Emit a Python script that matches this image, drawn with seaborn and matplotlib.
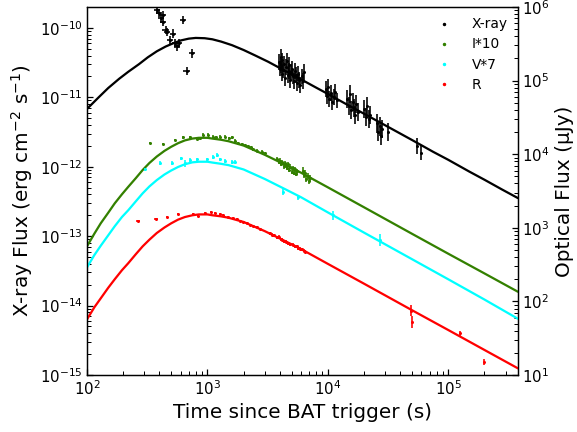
import numpy as np
import pandas as pd
import matplotlib
matplotlib.use("Agg")
import matplotlib.pyplot as plt
import seaborn as sns
from matplotlib.lines import Line2D

sns.set_style("ticks")
plt.rcParams['font.family'] = ['DejaVu Sans']
plt.rcParams.update({'axes.edgecolor': 'black', 'axes.labelcolor': 'black',
                     'xtick.color': 'black', 'ytick.color': 'black', 'text.color': 'black'})

# ---------------- X-ray data (erg cm^-2 s^-1) ----------------
xray_t = [384, 398, 411, 424, 430, 449, 464, 489, 514, 537, 555, 583, 622, 671, 748,
          3950, 4000, 4050, 4100, 4150, 4200, 4280, 4350, 4420, 4500, 4580, 4650, 4720, 4800,
          4880, 4950, 5050, 5150, 5250, 5350, 5450, 5550, 5650, 5750, 5900, 6050, 6200, 6400,
          9700, 9900, 10100, 10300, 10600, 10900, 11200, 11500, 11900,
          14500, 14900, 15300, 15700, 16100, 16500, 16900, 17300, 17800,
          20000, 20600, 21200, 21800, 22400,
          25500, 26200, 26900, 27600, 28300, 31500,
          55000, 60000]
xray_f = [1.81e-10, 1.63e-10, 1.37e-10, 1.53e-10, 1.23e-10, 9.3e-11, 8.8e-11, 6.7e-11, 8.3e-11,
          6.0e-11, 5.4e-11, 6.0e-11, 1.30e-10, 2.4e-11, 4.3e-11,
          3.2e-11, 2.6e-11, 3.8e-11, 2.9e-11, 2.2e-11, 3.4e-11, 2.5e-11, 3.0e-11, 1.9e-11, 2.7e-11,
          3.3e-11, 2.1e-11, 2.4e-11, 2.9e-11, 1.8e-11, 2.3e-11, 2.6e-11, 2.0e-11, 1.7e-11, 2.4e-11,
          2.1e-11, 1.6e-11, 2.2e-11, 1.8e-11, 1.5e-11, 2.0e-11, 1.7e-11, 2.3e-11,
          1.3e-11, 1.05e-11, 1.4e-11, 0.95e-11, 1.15e-11, 0.85e-11, 1.0e-11, 1.2e-11, 0.9e-11,
          9.5e-12, 7.5e-12, 11e-12, 6.5e-12, 8.5e-12, 7.0e-12, 5.5e-12, 8.0e-12, 6.2e-12,
          6.8e-12, 5.2e-12, 7.5e-12, 4.8e-12, 5.5e-12,
          4.2e-12, 3.2e-12, 3.8e-12, 2.8e-12, 3.5e-12, 3.2e-12,
          2.0e-12, 1.6e-12]
xray_ferr = [0.15] * 15 + [0.3] * 28 + [0.3] * 9 + [0.35] * 9 + [0.35] * 5 + [0.35] * 6 + [0.3] * 2
xray_terr = [0.06] * 15 + [0.0] * 59

# ---------------- Optical data (micro-Jansky, scaled as labelled) ----------------
I10_t = [333, 430, 537, 630, 716, 813, 870, 923, 1016, 1118, 1190, 1270, 1397, 1500, 1587, 1700,
         1803, 1920, 2048, 2180, 2300, 2400, 2600, 2816, 3000,
         3800, 3900, 4000, 4100, 4200, 4300, 4400, 4500, 4600, 4700, 4800, 4900, 5000, 5100, 5200,
         5300, 5400, 5500, 6200, 6350, 6500, 6650, 6800, 6950, 7100]
I10_f = [14300, 13800, 15600, 16900, 16900, 16100, 16400, 18400, 18400, 17300, 16900, 17300, 17300,
         16400, 16900, 15300, 14300, 13800, 13300, 12900, 12400, 11650, 11200, 10800, 10300,
         8600, 7900, 8200, 7400, 7800, 6900, 7600, 7100, 6500, 7300, 6100, 6800, 5800, 6400, 5600,
         6200, 5400, 5900, 6000, 5200, 5600, 4600, 5000, 4300, 4800]
I10_ferr = [0.04] * 25 + [0.08] * 18 + [0.1] * 7

V7_t = [303, 403, 505, 603, 650, 716, 813, 1000, 1118, 1200, 1270, 1397, 1587, 1680,
        4260, 5670, 11070, 27000]
V7_f = [6230, 7520, 7600, 8800, 7520, 8340, 8500, 8500, 9200, 9700, 8500, 8100, 7800, 7800,
        3100, 2600, 1480, 683]
V7_ferr = [0.05, 0.06, 0.05, 0.05, 0.12, 0.05, 0.05, 0.05, 0.06, 0.06, 0.06, 0.06, 0.07, 0.07,
           0.1, 0.08, 0.15, 0.2]

R_t = [267, 374, 464, 573, 762, 839, 953, 1062, 1154, 1270, 1353, 1489, 1639, 1746, 1861, 1983,
       2113, 2253, 2400, 2559, 2728,
       3300, 3450, 3600, 3750, 3900, 4050, 4200, 4350, 4500, 4700, 4900, 5100, 5300, 5500, 5700,
       5900, 6100, 6300, 6500,
       49000, 50500, 124500, 200000]
R_f = [1250, 1318, 1415, 1520, 1520, 1462, 1573, 1640, 1573, 1524, 1477, 1416, 1358, 1303, 1250,
       1199, 1150, 1103, 1058, 1015, 973,
       840, 800, 790, 740, 760, 700, 690, 660, 650, 620, 600, 590, 560, 560, 530, 520, 510, 490, 470,
       75, 52, 37, 15]
R_ferr = [0.03] * 21 + [0.05] * 19 + [0.2, 0.2, 0.08, 0.1]
R_terr = [0.04, 0.03] + [0.0] * 42

# ---------------- Model curves ----------------
xmod_t = [100, 125, 150, 185, 220, 270, 320, 380, 450, 520, 600, 700, 800, 950, 1100, 1300, 1600,
          2000, 2500, 3200, 4000, 5000, 6500, 8000, 10000, 14000, 20000, 30000, 50000, 75000,
          100000, 150000, 200000, 280000, 380000]
xmod_f = [6.8e-12, 1.0e-11, 1.36e-11, 1.85e-11, 2.33e-11, 3.0e-11, 3.77e-11, 4.6e-11, 5.39e-11,
          6.0e-11, 6.59e-11, 7.0e-11, 7.17e-11, 7.1e-11, 6.85e-11, 6.35e-11, 5.64e-11, 4.8e-11,
          4.0e-11, 3.25e-11, 2.64e-11, 2.15e-11, 1.68e-11, 1.38e-11, 1.12e-11, 8.1e-12, 5.8e-12,
          3.95e-12, 2.43e-12, 1.64e-12, 1.26e-12, 8.5e-13, 6.5e-13, 4.7e-13, 3.53e-13]

opt_t = [100, 115, 130, 150, 170, 195, 220, 255, 290, 330, 380, 440, 500, 570, 650, 750, 850,
         1000, 1100, 1300, 1500, 2000, 3000, 4500, 6000, 10000, 20000, 50000, 100000, 200000, 380000]
I10_mod = [560, 830, 1150, 1600, 2150, 2850, 3600, 4750, 6100, 7600, 9300, 11100, 12600, 14100,
           15400, 16300, 16700, 16700, 16300, 15700, 15000, 13100, 9800, 7100, 5600, 3550, 1900,
           830, 445, 240, 135]
V7_mod = [290, 425, 570, 790, 1050, 1400, 1730, 2300, 2940, 3650, 4450, 5300, 6000, 6700, 7300,
          7750, 7900, 7900, 7700, 7400, 7100, 6200, 4600, 3300, 2600, 1620, 860, 375, 200, 106, 58]
R_mod = [57, 83, 110, 153, 200, 265, 330, 440, 560, 690, 850, 1010, 1150, 1290, 1400, 1480, 1520,
         1520, 1480, 1430, 1370, 1200, 900, 650, 514, 324, 174, 76, 40.9, 21.9, 12.3]

C_GREEN = '#338000'
C_CYAN = '#00ffff'
C_RED = '#ff0000'

fig = plt.figure(figsize=(5.77 / 0.9, 4.32 / 0.9), dpi=90)
ax = fig.add_axes([87 / 577, 1 - 375 / 432, (518 - 87) / 577, (375 - 7) / 432])
ax2 = ax.twinx()

# X-ray model + data (left axis)
sns.lineplot(x=xmod_t, y=xmod_f, ax=ax, color='black', lw=1.8, sort=False)
xt = np.array(xray_t, float); xf = np.array(xray_f, float)
xfe = np.array(xray_ferr); xte = np.array(xray_terr)
ax.errorbar(xt, xf, yerr=[xf * (1 - 1 / (1 + xfe)), xf * xfe],
            xerr=[xt * (1 - 1 / (1 + xte)), xt * xte],
            fmt='none', ecolor='black', elinewidth=1.3, capsize=0)
sns.scatterplot(x=xray_t, y=xray_f, ax=ax, color='black', s=6, linewidth=0)

# Optical (right axis)
series = [(opt_t, I10_mod, I10_t, I10_f, I10_ferr, None, C_GREEN),
          (opt_t, V7_mod, V7_t, V7_f, V7_ferr, None, C_CYAN),
          (opt_t, R_mod, R_t, R_f, R_ferr, R_terr, C_RED)]
for tmod, fmod, td, fd, fe, te, col in series:
    sns.lineplot(x=tmod, y=fmod, ax=ax2, color=col, lw=1.8, sort=False)
    tda = np.array(td, float); fda = np.array(fd, float); fea = np.array(fe)
    xerr = None
    if te is not None:
        tea = np.array(te)
        xerr = [tda * (1 - 1 / (1 + tea)), tda * tea]
    ax2.errorbar(tda, fda, yerr=[fda * (1 - 1 / (1 + fea)), fda * fea], xerr=xerr, fmt='none',
                 ecolor=col, elinewidth=1.3, capsize=0)
    sns.scatterplot(x=td, y=fd, ax=ax2, color=col, s=6, linewidth=0)

for a in (ax, ax2):
    a.set_xscale('log')
    a.set_yscale('log')
ax.set_xlim(100, 3.8e5)
ax.set_ylim(1e-15, 2e-10)
ax2.set_ylim(10, 1e6)

ax.set_xlabel('Time since BAT trigger (s)', fontsize=16)
ax.set_ylabel('X-ray Flux (erg cm$^{-2}$ s$^{-1}$)', fontsize=16)
ax2.set_ylabel('Optical Flux (μJy)', fontsize=16)

for a in (ax, ax2):
    a.tick_params(which='both', direction='in', labelsize=12)
    a.tick_params(which='major', length=5, width=1)
    a.tick_params(which='minor', length=3, width=0.8)
ax.tick_params(axis='y', which='both', right=False)
ax.tick_params(axis='x', which='both', top=False)
ax2.tick_params(axis='x', which='both', top=False)
for a in (ax, ax2):
    for s in a.spines.values():
        s.set_linewidth(1.0)
        s.set_color('black')

handles = [Line2D([], [], ls='none', marker='.', ms=3.5, color=c)
           for c in ['black', C_GREEN, C_CYAN, C_RED]]
ax2.legend(handles, ['X-ray', 'I*10', 'V*7', 'R'], loc='upper right', frameon=False,
           fontsize=11, handletextpad=1.0, borderaxespad=0.35, labelspacing=0.45)

fig.savefig('out.png', dpi=90)
